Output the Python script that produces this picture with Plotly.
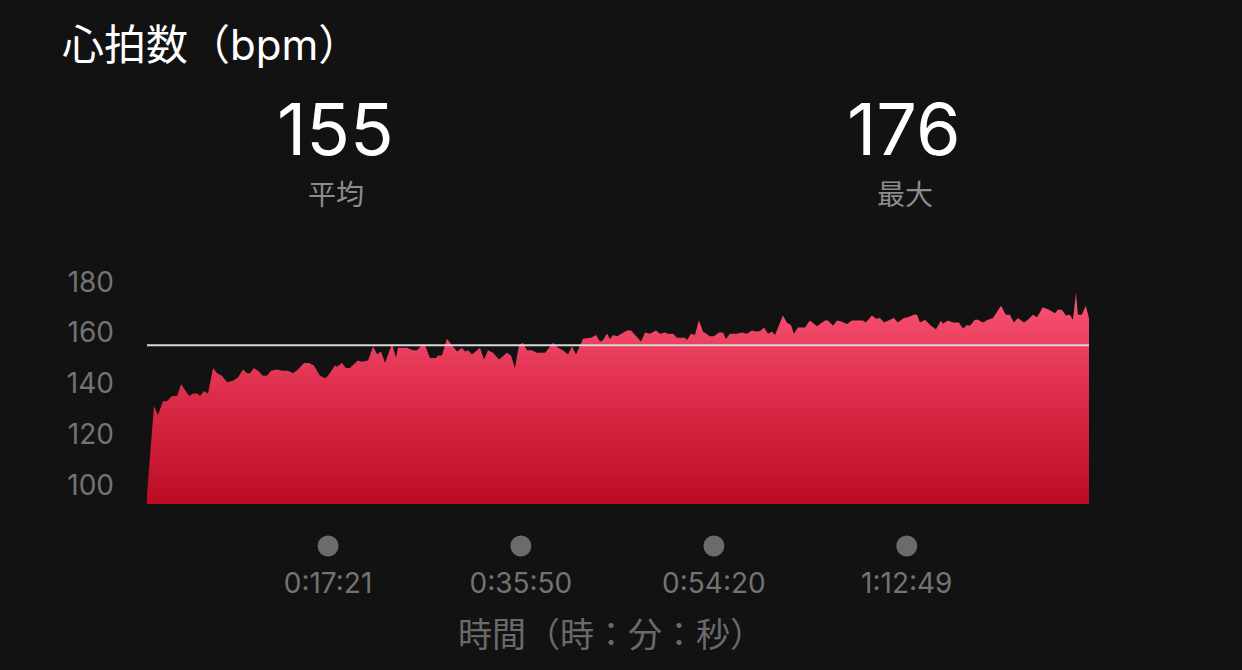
import plotly.graph_objects as go

# ---------------- data ----------------
TIME_S = [
    0, 29, 40, 63, 92, 115, 144, 173, 196, 242,
    265, 288, 305, 328, 351, 380, 403, 431, 460, 495,
    523, 552, 575, 592, 615, 638, 667, 690, 713, 748,
    776, 811, 840, 868, 903, 932, 960, 995, 1024, 1041,
    1081, 1093, 1121, 1144, 1167, 1213, 1236, 1271, 1300, 1323,
    1346, 1369, 1409, 1432, 1443, 1495, 1530, 1553, 1581, 1599,
    1627, 1662, 1673, 1696,
    1725, 1754, 1783, 1811, 1829, 1846, 1869, 1915, 1938, 1961,
    1990, 2024, 2070, 2093, 2116, 2139, 2162, 2185, 2214, 2243,
    2289, 2335, 2363, 2392, 2421, 2444, 2467, 2507, 2553, 2582,
    2605, 2622, 2645, 2662, 2680, 2703, 2760, 2783, 2841, 2864,
    2892, 2927, 2950, 2979, 3002, 3025, 3048, 3094, 3105, 3128,
    3151, 3174, 3197, 3237, 3260, 3289, 3312, 3329, 3352, 3393,
    3421, 3450, 3479, 3496, 3525, 3548, 3571, 3594, 3611,
    3657, 3680, 3703, 3720, 3743, 3784, 3812, 3853, 3899, 3916,
    3945, 3968, 3996, 4025, 4054, 4117, 4134, 4169, 4192, 4215,
    4238, 4261, 4295, 4318, 4353, 4376, 4410, 4428, 4445, 4474,
    4508, 4537, 4566, 4577, 4606, 4635, 4669, 4692, 4715, 4732,
    4761, 4778, 4807, 4836, 4865, 4911, 4939, 4962, 4985, 5008,
    5043, 5066, 5095, 5118, 5152, 5187, 5221, 5238, 5261, 5284,
    5307, 5325, 5342, 5353, 5376, 5399, 5417,
]
HR_BPM = [
    96, 123.5, 131, 127.5, 133, 133, 135, 135, 139.6, 135,
    136, 136, 135, 137, 136, 146, 144, 143, 140.4, 141,
    142.3, 145.5, 144, 144, 146, 145, 143, 143, 145, 145.5,
    145, 145, 144, 145.5, 148, 148, 147, 143, 142, 143,
    147, 146.5, 148, 146, 146, 149, 148.5, 149, 154.5, 151.5,
    152.5, 148, 155.7, 150, 154, 154, 153, 153, 155, 155,
    150, 150, 151, 151,
    157.6, 155, 152.5, 154, 152.5, 153, 151.4, 154, 149.4, 153,
    152, 149.4, 152, 151, 146, 155, 156, 153, 153, 152,
    152, 156, 154, 153, 151.4, 154.5, 151.4, 157.6, 158, 159,
    156.5, 157, 159.6, 157.5, 159, 158.5, 160.8, 160.8, 156.5, 160,
    159.5, 160.8, 159.5, 160, 159.4, 159.5, 158, 158, 157, 159.5,
    159, 164.7, 160.4, 158.5, 158.5, 160, 160, 157.5, 159.5, 159.5,
    160, 159.5, 160.8, 160.4, 160.5, 162, 159.5, 160.4, 159,
    166.7, 163.9, 163, 159.5, 162, 162, 164.7, 162.5, 164.7, 164.7,
    162.7, 164.7, 164.3, 163.4, 164.7, 164.7, 164, 166.7, 165.4, 165.7,
    164, 164.7, 165.7, 164, 165.7, 166, 167, 167, 164, 165,
    162.7, 161.3, 164.7, 163.5, 164.7, 164, 164, 161.6, 163, 162.7,
    165, 165, 164, 165, 165.7, 170.6, 167, 167, 164, 165.7,
    164, 165, 167, 166, 170, 169, 167.6, 169, 169, 166.7,
    167, 165, 175.7, 167, 167, 170.6, 165.5,
]
AVG_HR = 155
MAX_HR = 176
Y_TICKS = [100, 120, 140, 160, 180]
X_TICK_SECONDS = [1041, 2150, 3260, 4369]
X_TICK_LABELS = ["0:17:21", "0:35:50", "0:54:20", "1:12:49"]

TITLE = "心拍数（bpm）"
AVG_LABEL = "平均"
MAX_LABEL = "最大"
X_TITLE = "時間（時：分：秒）"

# ---------------- style ----------------
BG = "#121212"
GRAY = "#737373"
LATIN = "Inter, 'Noto Sans CJK JP', sans-serif"
CJK = "'Noto Sans CJK JP', sans-serif"

W, H = 1242, 670
ML, MR, MT, MB = 147, 153, 250, 20
PW, PH = W - ML - MR, H - MT - MB


def px(x):
    return (x - ML) / PW


def py(y):
    return (H - MB - y) / PH


fig = go.Figure()

fig.add_trace(go.Scatter(
    x=TIME_S, y=HR_BPM, mode="lines",
    line=dict(width=0, color="#f24d6e"),
    fill="tozeroy",
    fillgradient=dict(type="vertical",
                      colorscale=[[0, "#bc0c24"], [0.5, "#dc2c4a"], [1, "#fc5678"]],
                      start=92.5, stop=177),
    hoverinfo="skip", showlegend=False,
))

# tick dots below the chart
fig.add_trace(go.Scatter(
    x=X_TICK_SECONDS, y=[0.5] * len(X_TICK_SECONDS), yaxis="y2",
    mode="markers", marker=dict(size=21, color="#6b6b6b"),
    hoverinfo="skip", showlegend=False, cliponaxis=False,
))

fig.add_shape(type="line", xref="paper", x0=0, x1=1, yref="y", y0=AVG_HR, y1=AVG_HR,
              line=dict(color="#d9d9d9", width=2), layer="above")

ann = [
    dict(text=TITLE, x=px(61), y=py(44), xanchor="left", yanchor="middle",
         font=dict(size=42, color="#ffffff", family=LATIN)),
    dict(text=str(AVG_HR), x=px(335), y=py(128), xanchor="center", yanchor="middle",
         font=dict(size=72, color="#ffffff", family=LATIN)),
    dict(text=AVG_LABEL, x=px(336), y=py(192.5), xanchor="center", yanchor="middle",
         font=dict(size=28, color="#8c8c8c", family=CJK)),
    dict(text=str(MAX_HR), x=px(904), y=py(128), xanchor="center", yanchor="middle",
         font=dict(size=72, color="#ffffff", family=LATIN)),
    dict(text=MAX_LABEL, x=px(905), y=py(192.5), xanchor="center", yanchor="middle",
         font=dict(size=28, color="#8c8c8c", family=CJK)),
    dict(text=X_TITLE, x=px(611), y=py(632), xanchor="center", yanchor="middle",
         font=dict(size=34, color="#6a6a6a", family=CJK)),
]
for a in ann:
    a.update(xref="paper", yref="paper", showarrow=False, borderpad=0)

y_bottom = 92.5
scale = 2.54
y_dom0 = py(504)
y_top = y_bottom + (504 - MT) / scale

fig.update_layout(
    width=W, height=H,
    margin=dict(l=ML, r=MR, t=MT, b=MB),
    paper_bgcolor=BG, plot_bgcolor=BG,
    font=dict(family=LATIN, color=GRAY),
    annotations=ann,
    xaxis=dict(range=[0, TIME_S[-1]], tickvals=X_TICK_SECONDS, ticktext=X_TICK_LABELS,
               showgrid=False, zeroline=False, showline=False, ticks="",
               tickfont=dict(size=28, color=GRAY, family=LATIN),
               ticklabelstandoff=60, fixedrange=True),
    yaxis=dict(domain=[y_dom0, 1], range=[y_bottom, y_top], tickvals=Y_TICKS,
               showgrid=False, zeroline=False, showline=False, ticks="",
               tickfont=dict(size=28, color=GRAY, family=LATIN),
               ticklabelstandoff=32, fixedrange=True),
    yaxis2=dict(domain=[py(571), py(521)], range=[0, 1], visible=False, fixedrange=True),
)

fig.write_html(
    "out.html",
    config={"displayModeBar": False},
    post_script="document.body.style.margin='0';document.body.style.background='#121212';",
)
